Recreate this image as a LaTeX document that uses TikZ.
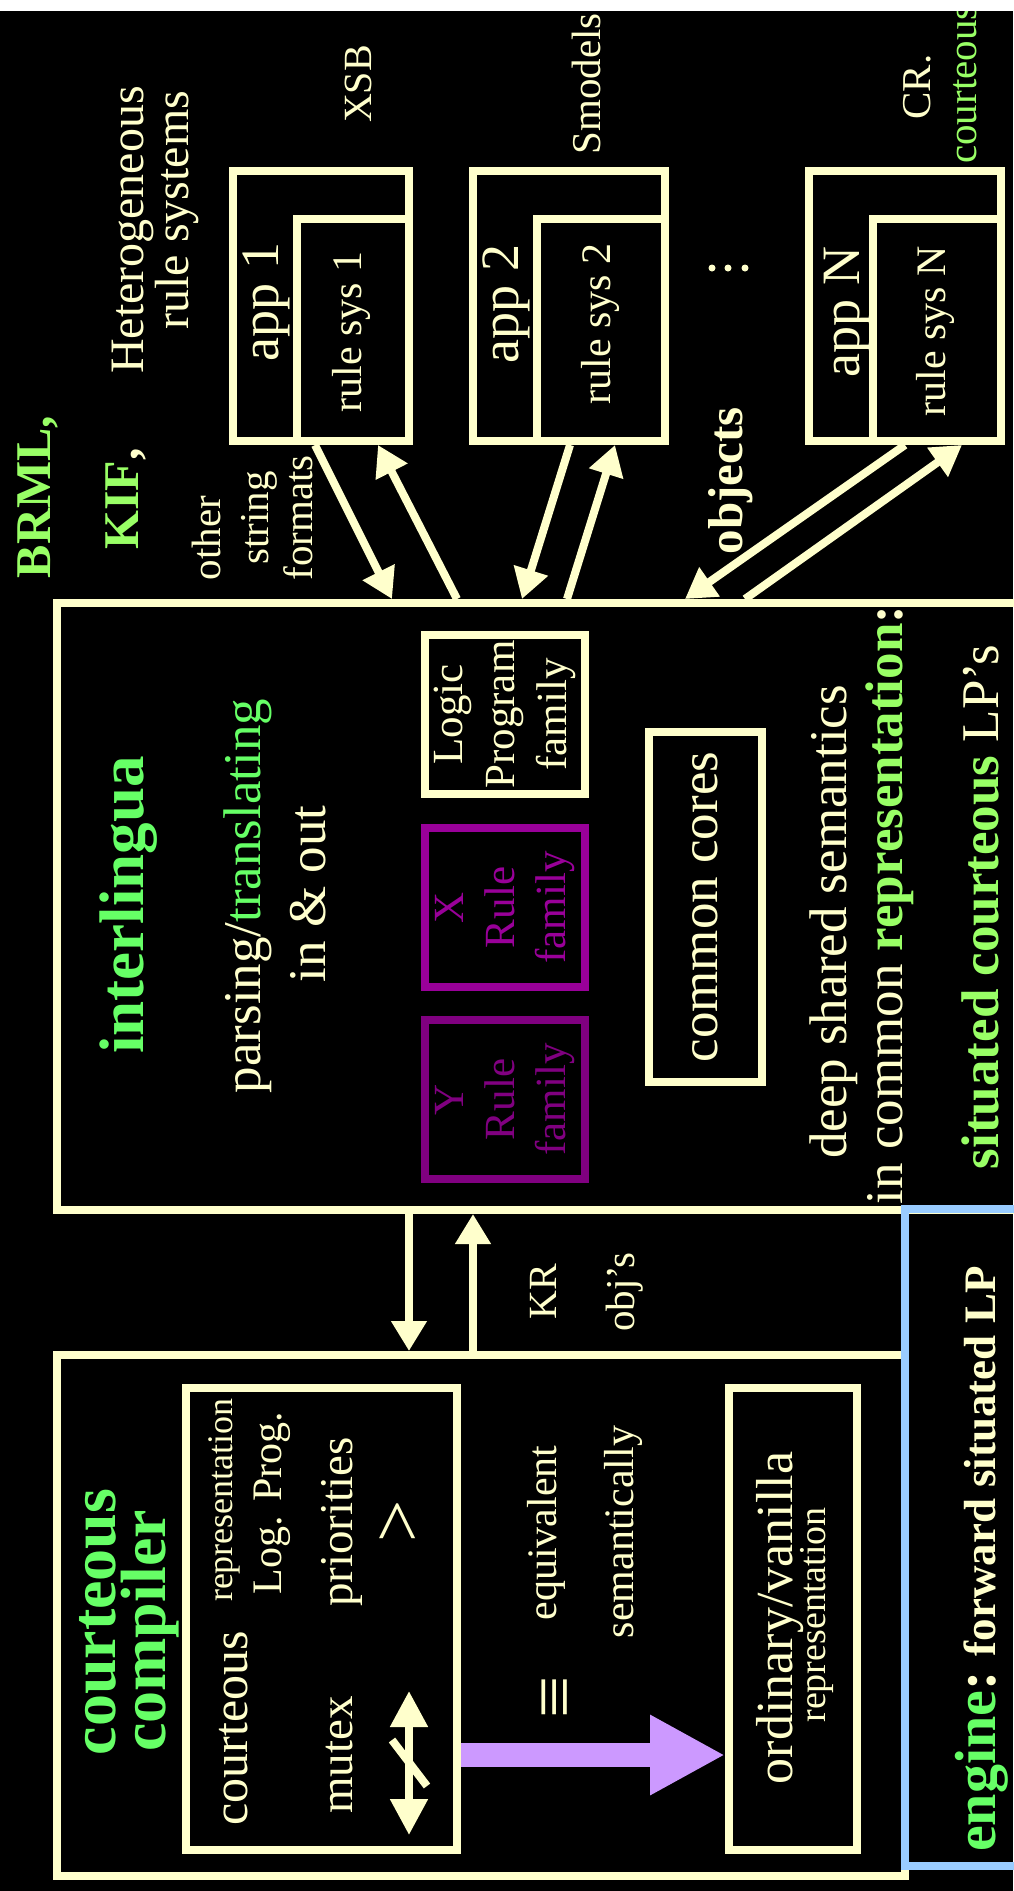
\documentclass[tikz,border=0pt]{standalone}
\usepackage{fontspec}
\setmainfont{Liberation Serif}
\usetikzlibrary{arrows.meta,calc}
\definecolor{cream}{HTML}{FFFFCC}
\definecolor{lgreen}{HTML}{66FF66}
\definecolor{ygreen}{HTML}{99FF66}
\definecolor{lilac}{HTML}{CC99FF}
\definecolor{skyblue}{HTML}{99CCFF}
\definecolor{plum}{HTML}{990099}
\definecolor{darkplum}{HTML}{800080}
\newcommand\fsz[2]{\fontsize{#1}{#2}\selectfont}

\begin{document}
\begin{tikzpicture}[x=1pt,y=-1pt,
  frame/.style={draw=cream, line width=8pt, rectangle, inner sep=0pt},
  lbl/.style={rotate=90, anchor=base, inner sep=0pt, text=cream},
  mid/.style={rotate=90, anchor=center, inner sep=0pt, text=cream, align=center},
  link/.style={draw=cream, line width=8pt, -{Triangle[width=34pt,length=30pt]}},
]
\useasboundingbox (0,0) rectangle (1013,1891);
\fill[black] (0,0) rectangle (1013,1891);

% ---- large frames
\node[frame, minimum width=983pt, minimum height=607pt] (inter) at (548.5,906.5) {};
\node[frame, minimum width=848pt, minimum height=521pt] (comp) at (481,1615.5) {};
\node[frame, draw=skyblue, minimum width=135pt, minimum height=657pt] (engine) at (972.5,1537.5) {};

% ---- applications with their rule systems
\node[frame, minimum width=176pt, minimum height=270pt] (app1) at (321,306) {};
\node[frame, fill=black, minimum width=112pt, minimum height=222pt] (rs1) at (353,330) {};
\node[frame, minimum width=192pt, minimum height=270pt] (app2) at (569,306) {};
\node[frame, fill=black, minimum width=128pt, minimum height=222pt] (rs2) at (601,330) {};
\node[frame, minimum width=192pt, minimum height=270pt] (appN) at (905,306) {};
\node[frame, fill=black, minimum width=128pt, minimum height=222pt] (rsN) at (937,330) {};

% ---- inside the interlingua
\node[frame, minimum width=160pt, minimum height=159pt] (logic) at (505,714.5) {};
\node[frame, draw=plum, minimum width=160pt, minimum height=159pt] (xrule) at (505,907.5) {};
\node[frame, draw=darkplum, minimum width=160pt, minimum height=159pt] (yrule) at (505,1099.5) {};
\node[frame, minimum width=113pt, minimum height=350pt] (cores) at (705.5,907) {};

% ---- inside the compiler
\node[frame, minimum width=271pt, minimum height=462pt] (crep) at (321.5,1619) {};
\node[frame, minimum width=128pt, minimum height=462pt] (ord) at (793,1619) {};

% ---- connectors between rule systems and interlingua
\draw[link] ($(rs1.south west)+(22,0)$) -- ($(inter.north west)+(339,0)$);
\draw[link] ($(inter.north west)+(404,0)$) -- ($(rs1.south west)+(85,0)$);
\draw[link] ($(rs2.south west)+(37,0)$) -- ($(inter.north west)+(469,0)$);
\draw[link] ($(inter.north west)+(514,0)$) -- ($(rs2.south west)+(82,0)$);
\draw[link] ($(rsN.south west)+(36,0)$) -- ($(inter.north west)+(632,0)$);
\draw[link] ($(inter.north west)+(692,0)$) -- ($(rsN.south west)+(93,0)$);

% ---- interlingua <-> compiler
\draw[link] ($(inter.south west)+(356,0)$) -- ($(comp.north west)+(356,0)$);
\draw[link] ($(comp.north west)+(420,0)$) -- ($(inter.south west)+(420,0)$);

% ---- compilation arrow
\draw[draw=lilac, line width=24pt, -{Triangle[width=75pt,length=75pt]}]
  ($(crep.east)+(0,136)$) -- ($(ord.west)+(0,136)$);

% ---- mutex symbol: crossed double arrow
\coordinate (mxa) at (409,1691);
\coordinate (mxb) at (409,1835);
\draw[cream, line width=8pt, {Triangle[width=36pt,length=36pt]}-{Triangle[width=36pt,length=36pt]}] (mxa) -- (mxb);
\coordinate (msa) at (392,1740);
\coordinate (msb) at (427,1786);
\draw[cream, line width=8pt] (msa) -- (msb);

% ---- vertical ellipsis between app 2 and app N
\fill[cream] (712,268) circle[radius=3.5];
\fill[cream] (728,268) circle[radius=3.5];
\fill[cream] (745,268) circle[radius=3.5];

% ---- labels, top
\node[lbl, font=\bfseries\fsz{50}{50}, text=ygreen] (brml) at (50,497) {BRML,};
\node[lbl, font=\bfseries\fsz{50}{50}] (kif) at (138,499) {\textcolor{ygreen}{KIF},};
\node[lbl, font=\fsz{41}{41}] (other) at (220,538) {other};
\node[lbl, font=\fsz{41}{41}] (string) at (268,518) {string};
\node[lbl, font=\fsz{41}{41}] (formats) at (312,518) {formats};
\node[lbl, font=\fsz{48}{48}] (hetero) at (143,230) {Heterogeneous};
\node[lbl, font=\fsz{48}{48}] (rsys) at (188,210) {rule systems};
\node[lbl, font=\fsz{40}{40}] (xsb) at (371,84) {XSB};
\node[lbl, font=\fsz{41}{41}] (smodels) at (600,84) {Smodels};
\node[lbl, font=\fsz{41}{41}] (cr) at (930,87) {CR.};
\node[lbl, font=\fsz{41}{41}, text=ygreen] (crc) at (976,84) {courteous};
\node[lbl, font=\fsz{54}{54}] (app1t) at (278,302) {app 1};
\node[lbl, font=\fsz{54}{54}] (app2t) at (518,304) {app 2};
\node[lbl, font=\fsz{54}{54}] (appNt) at (859,312) {app N};
\node[lbl, font=\fsz{42}{42}] (rs1t) at (361,332) {rule sys 1};
\node[lbl, font=\fsz{42}{42}] (rs2t) at (610,324) {rule sys 2};
\node[lbl, font=\fsz{42}{42}] (rsNt) at (945,331) {rule sys N};
\node[lbl, font=\bfseries\fsz{49}{49}] (objects) at (742,481) {objects};

% ---- labels, interlingua
\node[lbl, font=\bfseries\fsz{63}{63}, text=lgreen] (ilname) at (143,905) {interlingua};
\node[lbl, font=\fsz{53}{53}] (parse) at (260,896) {parsing/\textcolor{lgreen}{translating}};
\node[lbl, font=\fsz{53}{53}] (inout) at (325,894) {in \& out};
\node[mid, font=\fsz{43}{52}] (logict) at (logic) {Logic\\Program\\family};
\node[mid, font=\fsz{43}{51}, text=plum] (xt) at (xrule) {X\\Rule\\family};
\node[mid, font=\fsz{43}{51}, text=darkplum] (yt) at (yrule) {Y\\Rule\\family};
\node[mid, font=\fsz{53}{53}] (corest) at (cores) {common cores};
\node[lbl, font=\fsz{53}{53}] (deep) at (846,922) {deep shared semantics};
\node[lbl, font=\fsz{53}{53}] (incommon) at (902,905) {in common \textbf{\textcolor{ygreen}{representation}:}};
\node[lbl, font=\fsz{53}{53}] (situated) at (998,907) {\textbf{\textcolor{ygreen}{situated courteous}} LP’s};

% ---- labels, between and in compiler
\node[lbl, font=\fsz{40}{40}] (kr) at (556,1292) {KR};
\node[lbl, font=\fsz{41}{41}] (objs) at (634,1292) {obj’s};
\node[lbl, font=\bfseries\fsz{64}{64}, text=lgreen] (cc1) at (115,1622) {courteous};
\node[lbl, font=\bfseries\fsz{64}{64}, text=lgreen] (cc2) at (165,1631) {compiler};
\node[lbl, font=\fsz{50}{50}] (crt) at (247,1728) {courteous};
\node[lbl, font=\fsz{36}{36}] (creprep) at (232,1500) {representation};
\node[lbl, font=\fsz{42}{42}] (logprog) at (281,1503) {Log. Prog.};
\node[lbl, font=\fsz{47}{47}] (prio) at (352,1522) {priorities};
\node[lbl, font=\fsz{47}{47}] (mutex) at (352,1755) {mutex};
\node[mid, font=\fsz{75}{75}] (gt) at (401,1521) {>};
\node[mid, font=\fsz{75}{75}] (equiv) at (561,1697) {≡};
\node[lbl, font=\fsz{42}{42}] (eqv) at (556,1533) {equivalent};
\node[lbl, font=\fsz{42}{42}] (sem) at (633,1532) {semantically};
\node[lbl, font=\fsz{52}{52}] (ordt) at (792,1618) {ordinary/vanilla};
\node[lbl, font=\fsz{38}{38}] (ordrep) at (825,1615) {representation};
\node[rotate=90, anchor=base west, inner sep=0pt, text=cream, font=\bfseries] (eng) at (995,1852)
  {\fsz{58}{58}\textcolor{lgreen}{engine}:\fsz{45}{45} forward situated LP};

% ---- white strip along the top edge
\fill[white] (0,0) rectangle (1013,11);
\end{tikzpicture}
\end{document}
